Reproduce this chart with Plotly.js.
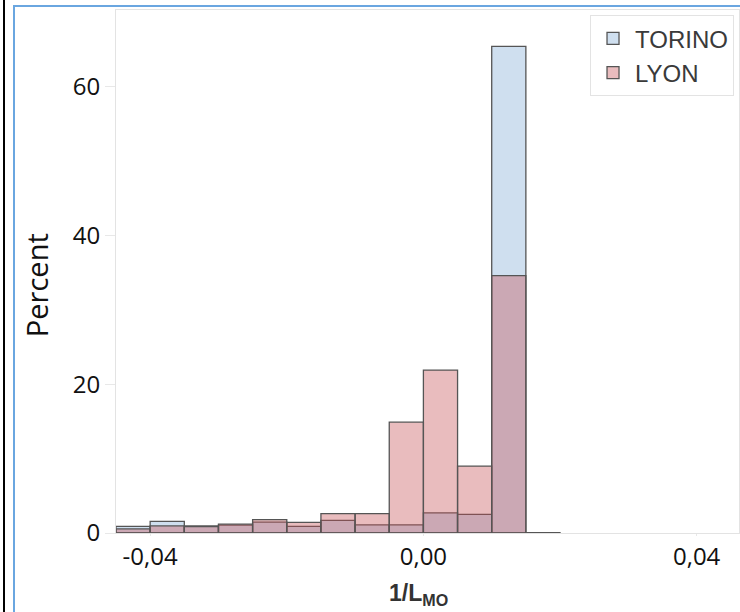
<!DOCTYPE html>
<html><head><meta charset="utf-8">
<script src="https://cdn.plot.ly/plotly-3.0.1.min.js"></script>
<style>
html,body{margin:0;padding:0;background:#fff;}
#wrap{position:relative;width:740px;height:612px;overflow:hidden;background:#fff;}
#vline{position:absolute;left:3px;top:0;width:2px;height:612px;background:#000;}
#frame{position:absolute;left:13px;top:5px;width:760px;height:700px;border-left:2px solid #6aa6e0;border-top:2px solid #6aa6e0;}
#chart{position:absolute;left:0;top:0;width:740px;height:612px;}
</style></head><body>
<div id="wrap"><div id="vline"></div><div id="frame"></div><div id="chart"></div></div>
<script>
// bin centres of 1/L_MO (bin width 0.005)
const binCenters = [-0.0425, -0.0375, -0.0325, -0.0275, -0.0225, -0.0175, -0.0125, -0.0075, -0.0025, 0.0025, 0.0075, 0.0125, 0.0175];
const binWidth = 0.005;
const torinoPct = [0.9, 1.55, 0.95, 1.05, 1.45, 0.9, 1.7, 1.1, 1.1, 2.7, 2.5, 65.4, 0.05];
const lyonPct   = [0.55, 0.95, 0.85, 1.2, 1.8, 1.43, 2.6, 2.6, 14.9, 21.9, 9.0, 34.6, 0];
const xTickVals = [-0.04, 0, 0.04];
const xTickText = ['-0,04', '0,00', '0,04'];
const yTickVals = [0, 20, 40, 60];
const xTitle = '<b>1/L<sub>MO</sub></b>';
const yTitle = 'Percent';

const widths = binCenters.map(() => binWidth);

const traces = [
  {type:'bar', name:'TORINO', x:binCenters, y:torinoPct, width:widths,
   marker:{color:'rgb(207,223,239)', line:{color:'rgb(85,85,85)', width:1.3}}, hoverinfo:'x+y'},
  {type:'bar', name:'LYON', x:binCenters, y:lyonPct, width:widths,
   marker:{color:'rgba(197,80,85,0.38)', line:{color:'rgb(85,85,85)', width:1.3}}, hoverinfo:'x+y'}
];

const layout = {
  width:740, height:612,
  margin:{l:116, r:1, t:10, b:79},
  paper_bgcolor:'rgba(0,0,0,0)', plot_bgcolor:'#fff',
  barmode:'overlay', bargap:0,
  showlegend:true,
  legend:{x:0.992, xanchor:'right', y:0.99, yanchor:'top', bgcolor:'#fff',
          bordercolor:'#e3e3e3', borderwidth:1, itemwidth:34,
          font:{family:'Liberation Sans, Arial, sans-serif', size:24, color:'#3a3a3a'},
          traceorder:'normal'},
  xaxis:{range:[-0.045, 0.0462], tickvals:xTickVals, ticktext:xTickText,
         showgrid:false, zeroline:false, showline:true, mirror:true, linecolor:'#e3e3e3', linewidth:1,
         ticks:'outside', ticklen:2, tickcolor:'#e8e8e8',
         tickfont:{family:'Open Sans, sans-serif', size:24, color:'#111'}},
  yaxis:{range:[0, 70.3], tickvals:yTickVals,
         showgrid:false, zeroline:false, showline:true, mirror:true, linecolor:'#e3e3e3', linewidth:1,
         ticks:'outside', ticklen:10, tickcolor:'#e8e8e8',
         tickfont:{family:'Open Sans, sans-serif', size:24, color:'#111'}},
  annotations:[
    {text:xTitle, xref:'paper', yref:'paper', x:0.4856, y:-0.1185, xanchor:'center', yanchor:'middle',
     showarrow:false, font:{family:'Liberation Sans, Arial, sans-serif', size:23, color:'#333'}},
    {text:yTitle, xref:'paper', yref:'paper', x:-0.1276, y:0.473, xanchor:'center', yanchor:'middle',
     textangle:-90, showarrow:false, font:{family:'Open Sans, sans-serif', size:29, color:'#111'}}
  ],
  font:{family:'Open Sans, sans-serif'}
};

Plotly.newPlot('chart', traces, layout, {displayModeBar:false, staticPlot:true});
</script>
</body></html>
